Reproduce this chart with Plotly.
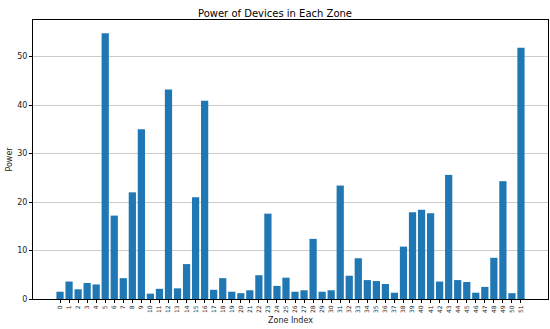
import plotly.graph_objects as go

zones = list(range(52))
power = [1.5, 3.6, 2.0, 3.3, 3.0, 54.8, 17.2, 4.3, 22.0, 35.0,
         1.1, 2.1, 43.2, 2.2, 7.2, 21.0, 40.9, 1.9, 4.3, 1.5,
         1.2, 1.8, 4.9, 17.6, 2.7, 4.4, 1.5, 1.8, 12.4, 1.5,
         1.8, 23.4, 4.8, 8.4, 3.9, 3.7, 3.1, 1.3, 10.8, 17.9,
         18.4, 17.7, 3.6, 25.6, 3.9, 3.5, 1.3, 2.5, 8.5, 24.3,
         1.2, 51.8]

fig = go.Figure(go.Bar(x=zones, y=power, marker=dict(color="#1f77b4", line=dict(width=0)), width=0.8))

fig.update_layout(
    width=550, height=329,
    margin=dict(l=33, r=2, t=20, b=30, autoexpand=False),
    paper_bgcolor="white", plot_bgcolor="white",
    font=dict(family="DejaVu Sans", color="#222"),
    title=dict(text="Power of Devices in Each Zone", x=0.5, xanchor="center", y=0.96, yanchor="middle",
               font=dict(size=10, color="black")),
    showlegend=False,
)
fig.update_xaxes(
    automargin=False,
    range=[-2.99, 53.99], tickmode="array", tickvals=zones, ticktext=[str(z) for z in zones],
    tickangle=-90, tickfont=dict(size=6), ticks="outside", ticklen=3, tickcolor="black",
    showline=True, linecolor="black", linewidth=1, mirror=True, showgrid=False, zeroline=False,
    title=dict(text="Zone Index", font=dict(size=8), standoff=5),
)
fig.update_yaxes(
    automargin=False,
    range=[0, 57.54], tickvals=[0, 10, 20, 30, 40, 50], tickfont=dict(size=8),
    ticks="outside", ticklen=3, tickcolor="black",
    showline=True, linecolor="black", linewidth=1, mirror=True,
    showgrid=True, gridcolor="#cccccc", gridwidth=1, zeroline=False,
    title=dict(text="Power", font=dict(size=8), standoff=3),
)

fig.write_html("out.html", config={"displayModeBar": False},
               post_script="document.body.style.margin='0';document.body.style.overflow='hidden';")
